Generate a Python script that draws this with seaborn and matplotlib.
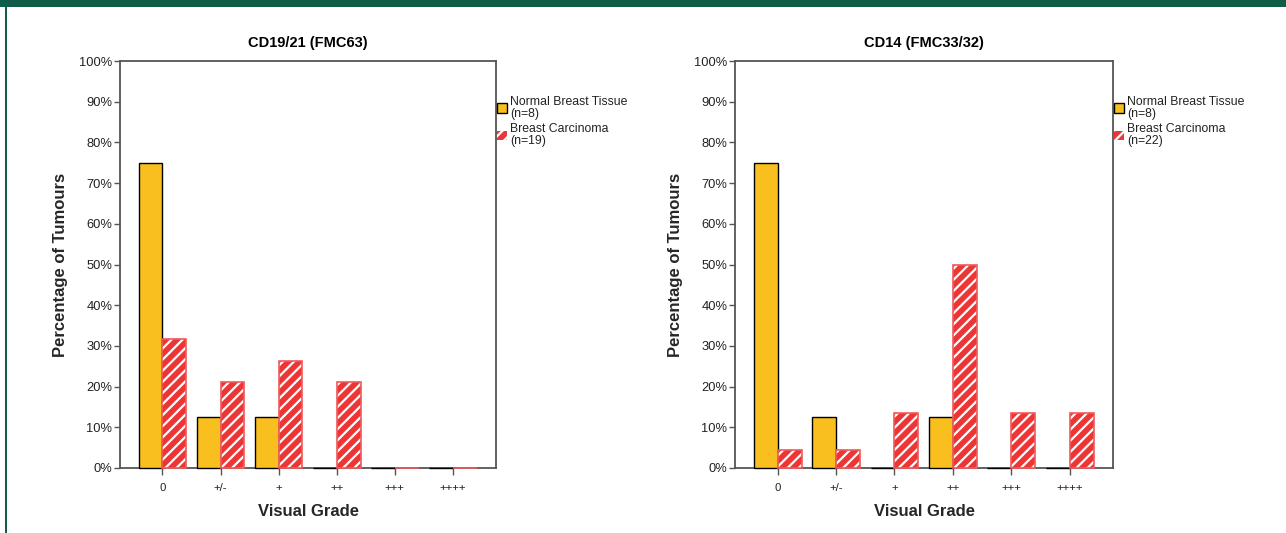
import matplotlib
matplotlib.use("Agg")
import matplotlib.pyplot as plt
from matplotlib.patches import Patch, Rectangle
from matplotlib.ticker import FuncFormatter, MultipleLocator
import pandas as pd
import seaborn as sns

# Visual grades of staining and the share of tissue samples in each grade (%)
grades = ["0", "+/-", "+", "++", "+++", "++++"]
group_names = ["Normal Breast Tissue\n(n=8)", "Breast Carcinoma\n(n=19)"]
group_names_cd14 = ["Normal Breast Tissue\n(n=8)", "Breast Carcinoma\n(n=22)"]

cd19_normal = [75.0, 12.5, 12.5, 0.0, 0.0, 0.0]
cd19_carcinoma = [31.6, 21.1, 26.3, 21.1, 0.0, 0.0]
cd14_normal = [75.0, 12.5, 0.0, 12.5, 0.0, 0.0]
cd14_carcinoma = [4.5, 4.5, 13.6, 50.0, 13.6, 13.6]

titles = ["CD19/21 (FMC63)", "CD14 (FMC33/32)"]

YELLOW = "#F9BF1F"
RED = "#EE3535"
RED_EDGE = "#F05A5A"
SPINE = "#555555"
TEXT = "#222222"
BAND = "#115C48"

sns.set_style("ticks")
plt.rcParams["font.family"] = ["Liberation Sans", "DejaVu Sans"]
plt.rcParams["hatch.linewidth"] = 1.6


def long_table(normal, carcinoma, names):
    return pd.DataFrame({
        "grade": grades * 2,
        "pct": list(normal) + list(carcinoma),
        "group": [names[0]] * len(grades) + [names[1]] * len(grades),
    })


def draw_panel(ax, table, names, title):
    sns.barplot(
        data=table, x="grade", y="pct", hue="group", order=grades,
        hue_order=names, palette=[YELLOW, RED], width=0.82,
        edgecolor="black", linewidth=1.0, saturation=1, legend=False,
        errorbar=None, ax=ax,
    )
    # bars sit above the frame so empty grades still show a flat line on the baseline
    for bar in ax.containers[0]:
        bar.set_zorder(3)
        bar.set_clip_on(False)
    # carcinoma bars: red fill with white diagonal hatching and a red outline
    for bar in ax.containers[1]:
        bar.set_edgecolor("white")
        bar.set_linewidth(0)
        bar.set_hatch("///")
        bar.set_zorder(3)
        ax.add_patch(Rectangle(bar.get_xy(), bar.get_width(), bar.get_height(),
                               fill=False, edgecolor=RED_EDGE, linewidth=1.2,
                               zorder=3.1, clip_on=False))

    ax.set_xlim(-0.73, 5.74)
    ax.set_ylim(0, 100)
    ax.yaxis.set_major_locator(MultipleLocator(10))
    ax.yaxis.set_major_formatter(FuncFormatter(lambda v, _: f"{v:.0f}%"))
    ax.tick_params(axis="y", labelsize=9.3, length=4, width=1.0,
                   color=SPINE, labelcolor=TEXT, pad=1.5)
    ax.tick_params(axis="x", labelsize=8.2, length=5, width=1.0,
                   color=SPINE, labelcolor=TEXT, pad=6)
    for side in ax.spines.values():
        side.set_visible(True)
        side.set_color(SPINE)
        side.set_linewidth(1.3)

    ax.set_title(title, fontsize=10.5, fontweight="bold", pad=10, color="black")
    ax.set_xlabel("Visual Grade", fontsize=12, fontweight="bold", labelpad=8)
    ax.set_ylabel("Percentage of Tumours", fontsize=12, fontweight="bold",
                  labelpad=8)

    handles = [
        Patch(facecolor=YELLOW, edgecolor="black", linewidth=1.0),
        Patch(facecolor=RED, edgecolor="white", hatch="///", linewidth=0),
    ]
    leg = ax.legend(handles, names, loc="upper left", bbox_to_anchor=(1.003, 0.915),
                    frameon=False, fontsize=8.8, handlelength=0.8,
                    handleheight=0.8, handletextpad=0.25, borderpad=0,
                    borderaxespad=0, labelspacing=0.3)
    for t in leg.get_texts():
        t.set_linespacing(1.0)
        t.set_color(TEXT)


fig = plt.figure(figsize=(12.86, 5.33), dpi=100)
fig.patch.set_facecolor("white")

ax1 = fig.add_axes([120 / 1286, 65 / 533, 376 / 1286, 407 / 533])
ax2 = fig.add_axes([735 / 1286, 65 / 533, 378 / 1286, 407 / 533])

draw_panel(ax1, long_table(cd19_normal, cd19_carcinoma, group_names),
           group_names, titles[0])
draw_panel(ax2, long_table(cd14_normal, cd14_carcinoma, group_names_cd14),
           group_names_cd14, titles[1])

# dark green frame: band along the top and a thin rule on the left
fig.patches.append(Rectangle((0, 1 - 7 / 533), 1, 7 / 533, transform=fig.transFigure,
                             facecolor=BAND, edgecolor="none", zorder=10))
fig.patches.append(Rectangle((5 / 1286, 0), 2 / 1286, 1, transform=fig.transFigure,
                             facecolor=BAND, edgecolor="none", zorder=10))

fig.savefig("out.png", dpi=100)
